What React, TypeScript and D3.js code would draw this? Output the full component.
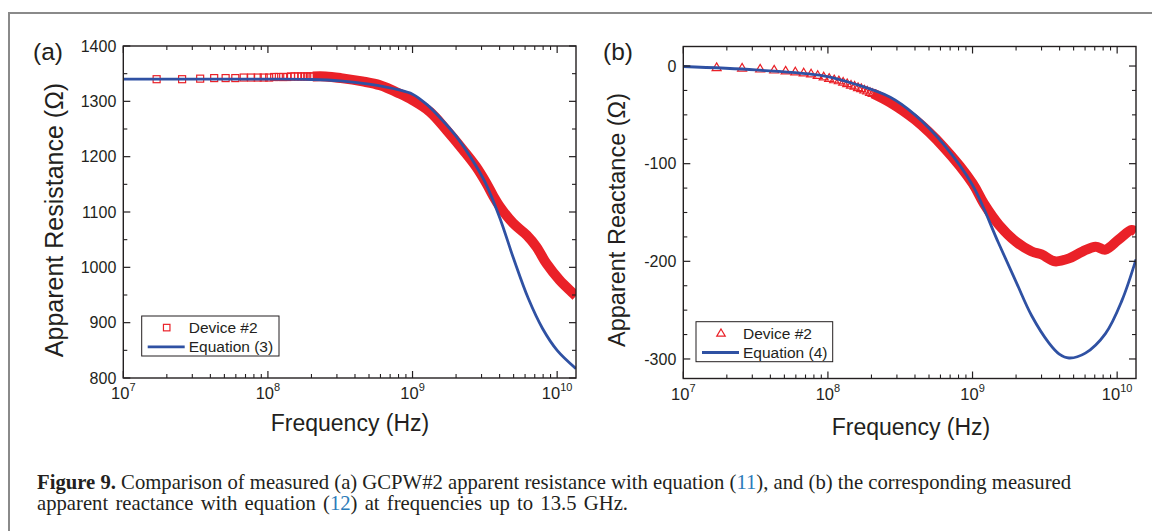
import React from 'react';
import * as d3 from 'd3';

const SANS = "'Liberation Sans', Arial, Helvetica, sans-serif";
const SERIF = "'Liberation Serif', 'Times New Roman', serif";
const INK = '#231f20';
const RED = '#ea2128';
const BLUE = '#2f51a3';
const LINK = '#2b7bb9';

// ---------- shared axis data ----------
const freqDomain = [1e7, 1.35e10];
const decadeExponents = [7, 8, 9, 10];

// ---------- panel (a): apparent resistance ----------
const resistanceTicks = [800, 900, 1000, 1100, 1200, 1300, 1400];
const resistanceDomain = [800, 1400];

// sparse low-frequency markers (MHz)
const markerFreqMHz = [17, 25.5, 34, 42.5, 51, 59.5, 68, 76.5, 85, 93.5, 102, 110.5, 119, 127.5, 136, 144.5, 153, 161.5, 170, 178.5, 187, 195.5, 204];
const deviceResistanceMarkers = [1340, 1340, 1341, 1342, 1342, 1342, 1343, 1343, 1343, 1343, 1343, 1344, 1344, 1344, 1344, 1345, 1345, 1345, 1345, 1345, 1345, 1345, 1345];

// dense measured band (Hz)
const deviceResistanceFreq = [2.04e8, 2.5e8, 3.2e8, 4.5e8, 5.96e8, 8.13e8, 1e9, 1.32e9, 1.72e9, 2.24e9, 2.75e9, 3.24e9, 3.63e9, 3.98e9, 4.95e9, 6.17e9, 7.19e9, 8.43e9, 1.04e10, 1.29e10, 1.35e10];
const deviceResistance = [1345, 1345, 1342, 1336, 1329, 1314, 1302, 1281, 1248, 1212, 1182, 1152, 1128, 1111, 1080, 1058, 1037, 1007, 977, 953, 948];

// equation (3)
const eq3Freq = [1e7, 1e8, 2e8, 3.16e8, 5e8, 7.94e8, 1e9, 1.26e9, 1.58e9, 2e9, 2.51e9, 3.16e9, 3.98e9, 5.01e9, 6.31e9, 7.94e9, 1e10, 1.35e10];
const eq3Resistance = [1340, 1340, 1339.5, 1337, 1331, 1321, 1313, 1294, 1268, 1237, 1200, 1155, 1092, 1015, 944, 889, 850, 817];

// ---------- panel (b): apparent reactance ----------
const reactanceTicks = [-300, -200, -100, 0];
const reactanceDomain = [-320, 20];

const deviceReactanceMarkers = [-1.5, -2, -3, -4, -5, -6, -7, -8, -9.5, -11, -12.5, -14, -15, -16.5, -18, -19.5, -20.5, -22, -23, -24.5, -25.5, -27, -28];

const deviceReactanceFreq = [2.04e8, 2.67e8, 4e8, 6.3e8, 1e9, 1.2e9, 1.53e9, 2e9, 2.57e9, 3e9, 3.7e9, 4.65e9, 5.75e9, 7.1e9, 8.3e9, 1.02e10, 1.26e10, 1.35e10];
const deviceReactance = [-28, -37, -55, -83, -120, -141, -163, -180, -190, -193, -200, -197, -190, -185, -188, -178, -168, -170];

const eq4Freq = [1e7, 3.16e7, 9.3e7, 1.58e8, 2.7e8, 4e8, 6.3e8, 1e9, 1.51e9, 2e9, 2.57e9, 3.39e9, 3.98e9, 4.65e9, 6.03e9, 8.3e9, 1.08e10, 1.35e10];
const eq4Reactance = [-0.5, -4, -10, -19, -32, -50, -80, -122, -181, -221, -256, -284, -295, -299, -294, -274, -240, -198];

type PanelProps = {
  id: string;
  left: number;
  right: number;
  top: number;
  bottom: number;
  yDomain: number[];
  yTicks: number[];
  minorStep: number;
  markerValues: number[];
  bandFreq: number[];
  bandValues: number[];
  lineFreq: number[];
  lineValues: number[];
  marker: 'square' | 'triangle';
  panelLabel: string;
  labelX: number;
  yTitle: string;
  yTitleSize: number;
  yTitleX: number;
  yTitleY: number;
  xTitleX: number;
  xTitleY: number;
  legendBox: number[];
  eqLabel: string;
};

function MarkerShape({ kind, x, y, s }: { kind: string; x: number; y: number; s: number }) {
  if (kind === 'square') {
    return <rect x={x - s / 2} y={y - s / 2} width={s} height={s} fill="none" stroke={RED} strokeWidth={1.2} />;
  }
  const h = s * 0.85;
  return (
    <path
      d={`M${x},${y - h * 0.6} L${x + s / 2},${y + h * 0.4} L${x - s / 2},${y + h * 0.4} Z`}
      fill="none"
      stroke={RED}
      strokeWidth={1.2}
    />
  );
}

function Panel(p: PanelProps) {
  const x = d3.scaleLog().domain(freqDomain).range([p.left, p.right]);
  const y = d3.scaleLinear().domain(p.yDomain).range([p.bottom, p.top]);

  const minorX: number[] = [];
  decadeExponents.forEach((e) => {
    for (let k = 2; k <= 9; k++) {
      const f = k * Math.pow(10, e);
      if (f <= freqDomain[1]) minorX.push(f);
    }
  });
  const minorY = d3
    .range(Math.ceil(p.yDomain[0] / p.minorStep) * p.minorStep, p.yDomain[1] + 1e-9, p.minorStep)
    .filter((v) => !p.yTicks.includes(v));

  const line = d3
    .line<[number, number]>()
    .x((d) => x(d[0]))
    .y((d) => y(d[1]))
    .curve(d3.curveCatmullRom.alpha(0.5));

  const bandPts: [number, number][] = p.bandFreq.map((f, i) => [f, p.bandValues[i]]);
  const linePts: [number, number][] = p.lineFreq.map((f, i) => [f, p.lineValues[i]]);

  const MAJ = 7;
  const MIN = 4;
  const [lx0, lx1, ly0, ly1] = p.legendBox;
  const row1 = ly0 + (ly1 - ly0) * 0.29;
  const row2 = ly0 + (ly1 - ly0) * 0.77;

  return (
    <g>
      <defs>
        <clipPath id={`clip-${p.id}`}>
          <rect x={p.left} y={p.top} width={p.right - p.left} height={p.bottom - p.top} />
        </clipPath>
      </defs>

      {/* data */}
      <g clipPath={`url(#clip-${p.id})`}>
        <path d={line(bandPts) || ''} fill="none" stroke={RED} strokeWidth={10} strokeLinejoin="round" />
        {markerFreqMHz.map((m, i) => (
          <MarkerShape key={i} kind={p.marker} x={x(m * 1e6)} y={y(p.markerValues[i])} s={p.marker === 'square' ? 7 : 9} />
        ))}
        <path d={line(linePts) || ''} fill="none" stroke={BLUE} strokeWidth={2.8} />
      </g>

      {/* frame */}
      <rect x={p.left} y={p.top} width={p.right - p.left} height={p.bottom - p.top} fill="none" stroke={INK} strokeWidth={1.4} />

      {/* x ticks */}
      {decadeExponents.map((e) => {
        const px = x(Math.pow(10, e));
        return (
          <g key={`xM${e}`}>
            <line x1={px} x2={px} y1={p.bottom} y2={p.bottom - MAJ} stroke={INK} strokeWidth={1.2} />
            <line x1={px} x2={px} y1={p.top} y2={p.top + MAJ} stroke={INK} strokeWidth={1.2} />
            <text x={px} y={p.bottom + 21} fontFamily={SANS} fontSize={16.5} fill={INK} textAnchor="middle">
              10<tspan fontSize={11} dy={-8}>{e}</tspan>
            </text>
          </g>
        );
      })}
      {minorX.map((f, i) => {
        const px = x(f);
        return (
          <g key={`xm${i}`}>
            <line x1={px} x2={px} y1={p.bottom} y2={p.bottom - MIN} stroke={INK} strokeWidth={1.1} />
            <line x1={px} x2={px} y1={p.top} y2={p.top + MIN} stroke={INK} strokeWidth={1.1} />
          </g>
        );
      })}

      {/* y ticks */}
      {p.yTicks.map((v) => {
        const py = y(v);
        return (
          <g key={`yM${v}`}>
            <line x1={p.left} x2={p.left + MAJ} y1={py} y2={py} stroke={INK} strokeWidth={1.2} />
            <line x1={p.right} x2={p.right - MAJ} y1={py} y2={py} stroke={INK} strokeWidth={1.2} />
            <text x={p.left - 7} y={py} dy="0.36em" fontFamily={SANS} fontSize={16} fill={INK} textAnchor="end">
              {v}
            </text>
          </g>
        );
      })}
      {minorY.map((v) => {
        const py = y(v);
        return (
          <g key={`ym${v}`}>
            <line x1={p.left} x2={p.left + MIN} y1={py} y2={py} stroke={INK} strokeWidth={1.1} />
            <line x1={p.right} x2={p.right - MIN} y1={py} y2={py} stroke={INK} strokeWidth={1.1} />
          </g>
        );
      })}

      {/* titles */}
      <text x={p.xTitleX} y={p.xTitleY} fontFamily={SANS} fontSize={23} fill={INK} textAnchor="middle">
        Frequency (Hz)
      </text>
      <text
        transform={`translate(${p.yTitleX},${p.yTitleY}) rotate(-90)`}
        fontFamily={SANS}
        fontSize={p.yTitleSize}
        fill={INK}
        textAnchor="middle"
      >
        {p.yTitle}
      </text>
      <text x={p.labelX} y={60} fontFamily={SANS} fontSize={24.5} fill={INK}>
        {p.panelLabel}
      </text>

      {/* legend */}
      <rect x={lx0} y={ly0} width={lx1 - lx0} height={ly1 - ly0} fill="#fff" stroke={INK} strokeWidth={1} />
      <MarkerShape kind={p.marker} x={lx0 + 25} y={row1} s={p.marker === 'square' ? 6.5 : 8.5} />
      <text x={lx0 + 47} y={row1} dy="0.36em" fontFamily={SANS} fontSize={15.5} fill={INK}>
        Device #2
      </text>
      <line x1={lx0 + 6} x2={lx0 + 43} y1={row2} y2={row2} stroke={BLUE} strokeWidth={2.8} />
      <text x={lx0 + 47} y={row2} dy="0.36em" fontFamily={SANS} fontSize={15.5} fill={INK}>
        {p.eqLabel}
      </text>
    </g>
  );
}

export default function App() {
  return (
    <svg
      width={1152}
      height={531}
      viewBox="0 0 1152 531"
      style={{ position: 'absolute', left: 0, top: 0, display: 'block', background: '#fff' }}
    >
      <rect x={0} y={0} width={1152} height={531} fill="#fff" />
      <path d="M9,531 V13 H1152" fill="none" stroke="#8a8a8a" strokeWidth={2} />

      <Panel
        id="a"
        left={123.3}
        right={576}
        top={46}
        bottom={378}
        yDomain={resistanceDomain}
        yTicks={resistanceTicks}
        minorStep={50}
        markerValues={deviceResistanceMarkers}
        bandFreq={deviceResistanceFreq}
        bandValues={deviceResistance}
        lineFreq={eq3Freq}
        lineValues={eq3Resistance}
        marker="square"
        panelLabel="(a)"
        labelX={33}
        yTitle="Apparent Resistance (Ω)"
        yTitleSize={25}
        yTitleX={63}
        yTitleY={220}
        xTitleX={350}
        xTitleY={431}
        legendBox={[141.7, 279, 316, 356]}
        eqLabel="Equation (3)"
      />
      <Panel
        id="b"
        left={683.3}
        right={1136}
        top={46.5}
        bottom={378.5}
        yDomain={reactanceDomain}
        yTicks={reactanceTicks}
        minorStep={25}
        markerValues={deviceReactanceMarkers}
        bandFreq={deviceReactanceFreq}
        bandValues={deviceReactance}
        lineFreq={eq4Freq}
        lineValues={eq4Reactance}
        marker="triangle"
        panelLabel="(b)"
        labelX={603}
        yTitle="Apparent Reactance (Ω)"
        yTitleSize={23.5}
        yTitleX={625}
        yTitleY={220}
        xTitleX={911}
        xTitleY={435}
        legendBox={[696, 832.7, 321.7, 361.7]}
        eqLabel="Equation (4)"
      />

      <text x={37} y={489} fontFamily={SERIF} fontSize={20.7} fill={INK}>
        <tspan fontWeight="bold">Figure 9.</tspan>
        <tspan> Comparison of measured (a) GCPW#2 apparent resistance with equation (</tspan>
        <tspan fill={LINK}>11</tspan>
        <tspan>), and (b) the corresponding measured</tspan>
      </text>
      <text x={37} y={510} fontFamily={SERIF} fontSize={20.7} fill={INK} wordSpacing={2}>
        <tspan>apparent reactance with equation (</tspan>
        <tspan fill={LINK}>12</tspan>
        <tspan>) at frequencies up to 13.5 GHz.</tspan>
      </text>
    </svg>
  );
}
